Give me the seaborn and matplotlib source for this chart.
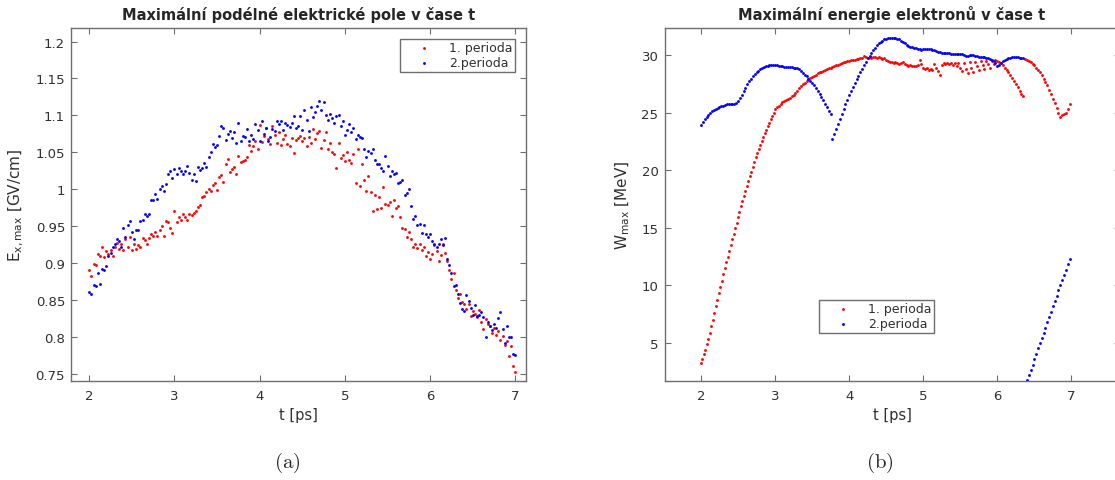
import numpy as np
import pandas as pd
import matplotlib
matplotlib.use("Agg")
import matplotlib.pyplot as plt
import seaborn as sns

# ---------------- data: (a) maximal longitudinal electric field ----------------
t_step_a = 0.025
t_start_a = 2.0
ex_red = [
    0.891, 0.882, 0.899, 0.897, 0.912, 0.910, 0.921, 0.908,
    0.916, 0.912, 0.918, 0.909, 0.921, 0.927, 0.919, 0.925,
    0.917, 0.933, 0.921, 0.935, 0.918, 0.925, 0.919, 0.924,
    0.922, 0.934, 0.931, 0.925, 0.934, 0.939, 0.937, 0.942,
    0.936, 0.945, 0.950, 0.937, 0.957, 0.956, 0.948, 0.941,
    0.970, 0.956, 0.962, 0.958, 0.966, 0.962, 0.958, 0.967,
    0.965, 0.968, 0.970, 0.976, 0.978, 0.990, 0.991, 0.996,
    1.000, 0.997, 1.006, 1.008, 0.999, 1.017, 1.019, 1.010,
    1.034, 1.041, 1.023, 1.027, 1.030, 1.021, 1.045, 1.037,
    1.038, 1.040, 1.044, 1.060, 1.052, 1.058, 1.065, 1.054,
    1.087, 1.064, 1.072, 1.083, 1.068, 1.061, 1.086, 1.074,
    1.063, 1.077, 1.060, 1.068, 1.073, 1.061, 1.059, 1.070,
    1.049, 1.066, 1.069, 1.072, 1.065, 1.070, 1.058, 1.071,
    1.062, 1.082, 1.068, 1.076, 1.079, 1.056, 1.066, 1.078,
    1.055, 1.062, 1.050, 1.048, 1.028, 1.062, 1.042, 1.046,
    1.038, 1.050, 1.040, 1.035, 1.047, 1.008, 1.055, 1.004,
    1.034, 1.013, 0.997, 1.018, 0.996, 0.970, 0.992, 0.973,
    0.989, 0.975, 1.003, 0.980, 0.978, 0.983, 0.964, 0.985,
    0.975, 0.977, 0.962, 0.947, 0.946, 0.935, 0.942, 0.932,
    0.922, 0.925, 0.920, 0.926, 0.917, 0.922, 0.910, 0.915,
    0.906, 0.912, 0.924, 0.916, 0.903, 0.911, 0.925, 0.914,
    0.902, 0.890, 0.878, 0.886, 0.864, 0.852, 0.858, 0.847,
    0.845, 0.837, 0.844, 0.828, 0.835, 0.831, 0.827, 0.836,
    0.820, 0.810, 0.824, 0.817, 0.814, 0.805, 0.812, 0.803,
    0.808, 0.796, 0.801, 0.789, 0.794, 0.774, 0.787, 0.760,
    0.752,
]
ex_blue = [
    0.861, 0.858, 0.870, 0.869, 0.887, 0.872, 0.892, 0.890,
    0.896, 0.910, 0.913, 0.921, 0.925, 0.932, 0.930, 0.922,
    0.948, 0.935, 0.951, 0.957, 0.942, 0.933, 0.945, 0.944,
    0.957, 0.958, 0.966, 0.963, 0.967, 0.985, 0.985, 0.994,
    0.986, 1.000, 1.004, 0.997, 1.007, 1.021, 1.025, 1.015,
    1.027, 1.021, 1.029, 1.024, 1.020, 1.025, 1.032, 1.022,
    1.012, 1.021, 1.011, 1.030, 1.026, 1.028, 1.035, 1.030,
    1.044, 1.050, 1.061, 1.057, 1.060, 1.072, 1.086, 1.083,
    1.066, 1.075, 1.079, 1.069, 1.077, 1.063, 1.090, 1.065,
    1.072, 1.071, 1.082, 1.065, 1.074, 1.068, 1.088, 1.080,
    1.065, 1.092, 1.075, 1.083, 1.065, 1.071, 1.082, 1.079,
    1.093, 1.088, 1.092, 1.080, 1.090, 1.087, 1.084, 1.089,
    1.099, 1.083, 1.086, 1.099, 1.080, 1.107, 1.094, 1.079,
    1.111, 1.098, 1.105, 1.113, 1.120, 1.107, 1.118, 1.101,
    1.094, 1.102, 1.097, 1.090, 1.099, 1.101, 1.085, 1.092,
    1.074, 1.080, 1.088, 1.077, 1.083, 1.068, 1.074, 1.071,
    1.069, 1.055, 1.044, 1.052, 1.049, 1.055, 1.040, 1.034,
    1.034, 1.029, 1.025, 1.045, 1.032, 1.018, 1.025, 1.021,
    1.022, 1.009, 1.010, 1.013, 0.992, 0.995, 1.000, 0.977,
    0.960, 0.964, 0.951, 0.953, 0.940, 0.952, 0.939, 0.935,
    0.939, 0.930, 0.926, 0.922, 0.925, 0.932, 0.924, 0.934,
    0.905, 0.897, 0.886, 0.869, 0.870, 0.858, 0.846, 0.837,
    0.835, 0.857, 0.848, 0.839, 0.830, 0.843, 0.828, 0.829,
    0.834, 0.827, 0.800, 0.820, 0.815, 0.809, 0.817, 0.812,
    0.826, 0.834, 0.810, 0.792, 0.815, 0.800, 0.800, 0.776,
    0.775,
]

# ---------------- data: (b) maximal electron energy ----------------
w_red_a = [
    3.20, 3.60, 4.00, 4.40, 4.85, 5.30, 5.85, 6.42, 7.00, 7.57,
    8.15, 8.72, 9.30, 9.87, 10.40, 10.93, 11.45, 11.97, 12.48, 12.98,
    13.48, 13.98, 14.47, 14.96, 15.44, 15.92, 16.39, 16.86, 17.32, 17.77,
    18.21, 18.64, 19.06, 19.47, 19.87, 20.30, 20.70, 21.10, 21.50, 21.85,
    22.20, 22.55, 22.90, 23.20, 23.50, 23.80, 24.10, 24.40, 24.70, 25.00,
]
w_red_b = [
    25.30, 25.45, 25.60, 25.75, 25.90, 26.00, 26.10, 26.20,
    26.30, 26.40, 26.50, 26.70, 26.90, 27.10, 27.30, 27.45,
    27.60, 27.75, 27.90, 28.00, 28.10, 28.20, 28.30, 28.40,
    28.50, 28.55, 28.60, 28.70, 28.80, 28.85, 28.90, 28.95,
    29.05, 29.10, 29.15, 29.20, 29.30, 29.35, 29.40, 29.45,
    29.50, 29.55, 29.60, 29.60, 29.65, 29.65, 29.70, 29.75,
    29.95, 29.80, 29.75, 29.80, 29.70, 29.85, 29.80, 29.70,
    29.80, 29.70, 29.65, 29.75, 29.60, 29.50, 29.40, 29.35,
    29.30, 29.35, 29.30, 29.25, 29.30, 29.35, 29.20, 29.10,
    29.05, 29.10, 29.00, 29.05, 29.00, 29.10, 29.60, 29.20,
    28.90, 28.80, 28.90, 28.70, 28.80, 28.70, 29.20, 28.90,
    28.60, 28.30, 29.10, 29.30, 29.20, 29.30, 29.20, 29.30,
    29.10, 29.30, 29.00, 29.30, 28.90, 28.60, 29.30, 28.80,
    28.40, 29.40, 28.90, 28.50, 29.40, 29.00, 28.70, 29.50,
    29.10, 28.80, 29.50, 29.20, 28.90, 29.50, 29.20, 29.55,
    29.50, 29.40, 29.30, 29.10, 28.90, 28.70, 28.50, 28.25,
    28.00, 27.75, 27.50, 27.20, 26.90, 26.65, 26.45,
]
w_red_c = [
    29.65, 29.60, 29.50, 29.40, 29.25, 29.10, 28.90, 28.70,
    28.50, 28.25, 27.95, 27.65, 27.35, 27.00, 26.60, 26.20,
    25.80, 25.40, 25.00, 24.60, 24.75, 24.85, 24.95, 25.35,
    25.75,
]
w_blue_a = [
    23.90, 24.15, 24.40, 24.60, 24.80, 24.95, 25.10, 25.20,
    25.30, 25.40, 25.50, 25.55, 25.60, 25.65, 25.70, 25.70,
    25.70, 25.70, 25.75, 25.80, 26.00, 26.25, 26.55, 26.85,
    27.15, 27.45, 27.70, 27.95, 28.15, 28.35, 28.50, 28.65,
    28.75, 28.85, 28.95, 29.00, 29.05, 29.10, 29.10, 29.10,
    29.10, 29.10, 29.05, 29.05, 29.00, 28.95, 28.95, 28.95,
    28.95, 28.95, 28.90, 28.85, 28.85, 28.75, 28.60, 28.45,
    28.30, 28.15, 27.95, 27.75, 27.55, 27.35, 27.10, 26.85,
    26.60, 26.35, 26.05, 25.75, 25.45, 25.15, 24.85,
]
w_blue_b = [
    22.70,
    23.10, 23.55, 24.00, 24.45, 24.90, 25.30, 25.70, 26.10,
    26.50, 26.85, 27.20, 27.55, 27.90, 28.20, 28.50, 28.80,
    29.10, 29.40, 29.70, 29.95, 30.20, 30.45, 30.65, 30.85,
    31.00, 31.15, 31.25, 31.35, 31.40, 31.45, 31.50, 31.50,
    31.50, 31.45, 31.40, 31.35, 31.25, 31.15, 31.00, 30.85,
    30.75, 30.70, 30.70, 30.65, 30.60, 30.55, 30.50, 30.45,
    30.50, 30.55, 30.55, 30.55, 30.50, 30.45, 30.40, 30.35,
    30.30, 30.25, 30.20, 30.15, 30.15, 30.15, 30.15, 30.10,
    30.10, 30.10, 30.10, 30.05, 30.05, 30.05, 30.00, 29.95,
    29.95, 30.00, 30.00, 30.00, 29.95, 29.90, 29.85, 29.80,
    29.80, 29.80, 29.75, 29.70, 29.65, 29.55, 29.45, 29.30,
    29.00, 29.15, 29.30, 29.45, 29.55, 29.65, 29.70, 29.75,
    29.80, 29.80, 29.80, 29.80, 29.75, 29.70, 29.70,
]
w_blue_c = [
    1.75, 2.20, 2.65, 3.10, 3.55, 4.00, 4.50, 4.95,
    5.40, 5.85, 6.30, 6.80, 7.25, 7.70, 8.15, 8.60,
    9.10, 9.55, 10.00, 10.45, 10.90, 11.35, 11.80, 12.25,
]
# segments: (start time, time step, values)
red_segments = [(2.0, 0.02, w_red_a), (3.0, 0.025, w_red_b), (6.375, 0.025, w_red_c)]
blue_segments = [(2.0, 0.025, w_blue_a), (3.775, 0.025, w_blue_b), (6.4, 0.025, w_blue_c)]

series_labels = ["1. perioda", "2.perioda"]
series_colors = ["#ff0000", "#0000ff"]
xticks = [2, 3, 4, 5, 6, 7]
yticks_a = [0.75, 0.8, 0.85, 0.9, 0.95, 1.0, 1.05, 1.1, 1.15, 1.2]
ytick_labels_a = ["0.75", "0.8", "0.85", "0.9", "0.95", "1", "1.05", "1.1", "1.15", "1.2"]
yticks_b = [5, 10, 15, 20, 25, 30]
title_a = "Maximální podélné elektrické pole v čase t"
title_b = "Maximální energie elektronů v čase t"


def seg_frame(segments, label):
    frames = []
    for start, step, vals in segments:
        t = start + step * np.arange(len(vals))
        frames.append(pd.DataFrame({"t": t, "v": vals, "s": label}))
    return pd.concat(frames, ignore_index=True)


df_a = pd.concat([
    pd.DataFrame({"t": t_start_a + t_step_a * np.arange(len(ex_red)), "v": ex_red, "s": series_labels[0]}),
    pd.DataFrame({"t": t_start_a + t_step_a * np.arange(len(ex_blue)), "v": ex_blue, "s": series_labels[1]}),
], ignore_index=True)
df_b = pd.concat([seg_frame(red_segments, series_labels[0]),
                  seg_frame(blue_segments, series_labels[1])], ignore_index=True)

sns.set_style("white")
plt.rcParams["font.family"] = ["DejaVu Sans"]
plt.rcParams["mathtext.fontset"] = "dejavusans"

SPINE = "#6e6e6e"
TXT = "#303030"

fig = plt.figure(figsize=(11.15, 4.81), dpi=100)
axA = fig.add_axes([0.0640, 0.2058, 0.4074, 0.7333])
axB = fig.add_axes([0.5961, 0.2058, 0.4080, 0.7333])

for ax, df in ((axA, df_a), (axB, df_b)):
    for lab, col in zip(series_labels, series_colors):
        sub = df[df["s"] == lab]
        sns.scatterplot(x=sub["t"], y=sub["v"], ax=ax, color=col, s=4.2,
                        linewidth=0, label=lab, legend=False)
    ax.set_xticks(xticks)
    ax.tick_params(direction="in", length=4, width=0.8, color=SPINE,
                   labelcolor=TXT, labelsize=9.5, top=True, right=True,
                   bottom=True, left=True)
    ax.tick_params(axis="x", pad=6)
    ax.tick_params(axis="y", pad=4.5)
    for sp in ax.spines.values():
        sp.set_color(SPINE)
        sp.set_linewidth(1.0)
        sp.set_visible(True)
    ax.set_xlabel("t [ps]", fontsize=10.5, color=TXT, labelpad=3)

axA.set_xlim(1.79, 7.12)
axA.set_ylim(0.74, 1.218)
axA.set_yticks(yticks_a)
axA.set_yticklabels(ytick_labels_a)
axA.set_ylabel(r"E$_{\mathrm{x,max}}$ [GV/cm]", fontsize=11, color=TXT, labelpad=7)
axA.set_title(title_a, fontsize=10.5, fontweight="bold", pad=6.5)

axB.set_xlim(1.51, 7.65)
axB.set_ylim(1.67, 32.32)
axB.set_yticks(yticks_b)
axB.set_ylabel(r"W$_{\mathrm{max}}$ [MeV]", fontsize=11, color=TXT, labelpad=7)
axB.set_title(title_b, fontsize=10.5, fontweight="bold", pad=6.5)

leg_kw = dict(fontsize=9, frameon=True, fancybox=False, framealpha=1,
              edgecolor=SPINE, scatterpoints=1, borderpad=0.2,
              handlelength=3.4, handletextpad=0.3, labelspacing=0.15,
              borderaxespad=0)
legA = axA.legend(loc="upper right", bbox_to_anchor=(0.9764, 0.9697), **leg_kw)
legB = axB.legend(loc="lower left", bbox_to_anchor=(0.340, 0.137), **leg_kw)
for lg in (legA, legB):
    lg.get_frame().set_linewidth(1.0)
    for t in lg.get_texts():
        t.set_color(TXT)

fig.text(287 / 1115, 1 - 463 / 481, r"$\mathrm{(a)}$", fontsize=15,
         math_fontfamily="cm", ha="center", va="center")
fig.text(880 / 1115, 1 - 463 / 481, r"$\mathrm{(b)}$", fontsize=15,
         math_fontfamily="cm", ha="center", va="center")

fig.savefig("out.png", dpi=100)
